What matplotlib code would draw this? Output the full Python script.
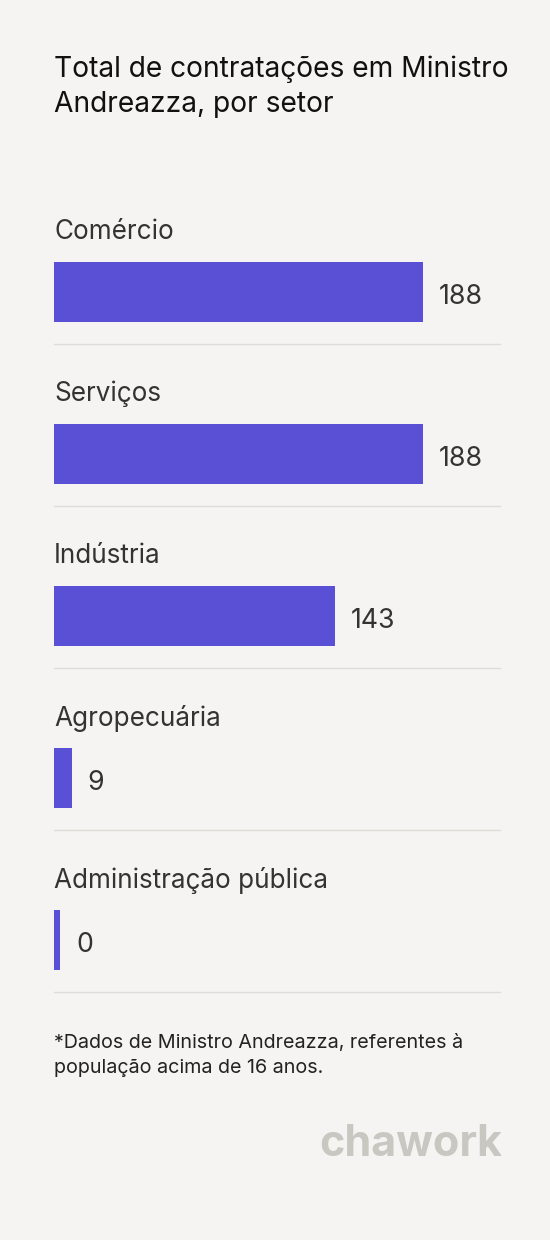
import matplotlib.pyplot as plt

sectors = ["Comércio", "Serviços", "Indústria", "Agropecuária", "Administração pública"]
values = [188, 188, 143, 9, 0]

W, H = 550, 1240
BG = "#f5f4f2"
BAR = "#5a50d6"
plt.rcParams["font.family"] = ["Inter", "DejaVu Sans"]

fig = plt.figure(figsize=(W / 100, H / 100), dpi=100, facecolor=BG)

# pixel-space axes for text and separators
base = fig.add_axes([0, 0, 1, 1])
base.set_xlim(0, W)
base.set_ylim(H, 0)
base.axis("off")
base.set_facecolor(BG)

# bar axes: x from 54px to 500px, 188 -> 423px
x0, x1 = 54, 500
xmax = 188 * (x1 - x0) / (423 - x0)
ax = fig.add_axes([x0 / W, 0, (x1 - x0) / W, 1])
ax.set_xlim(0, xmax)
ax.set_ylim(H, 0)
ax.axis("off")
ax.patch.set_alpha(0)

base.text(54, 69, "Total de contratações em Ministro", fontsize=20.3, color="#111111", va="center")
base.text(54, 104, "Andreazza, por setor", fontsize=20.3, color="#111111", va="center")

min_w = 6 * xmax / (x1 - x0)
for i, (name, v) in enumerate(zip(sectors, values)):
    yc = 292 + i * 162
    base.text(54, yc - 60, name, fontsize=18.8, color="#333333", va="center")
    w = max(v, min_w)
    ax.barh(yc, w, height=60, color=BAR, left=0)
    ax.annotate(str(v), (w, yc), xytext=(16, -5), textcoords="offset pixels",
                fontsize=19.2, color="#333333", va="center")
    base.plot([54, 500], [yc + 52, yc + 52], color="#dedcd8", lw=1)

base.text(54, 1043, "*Dados de Ministro Andreazza, referentes à", fontsize=14.2, color="#222222", va="center")
base.text(54, 1068, "população acima de 16 anos.", fontsize=14.2, color="#222222", va="center")
base.text(502, 1145, "chawork", fontsize=31, fontweight="bold", color="#c9c7c1", ha="right", va="center")

fig.savefig("out.png", dpi=100, facecolor=BG)
